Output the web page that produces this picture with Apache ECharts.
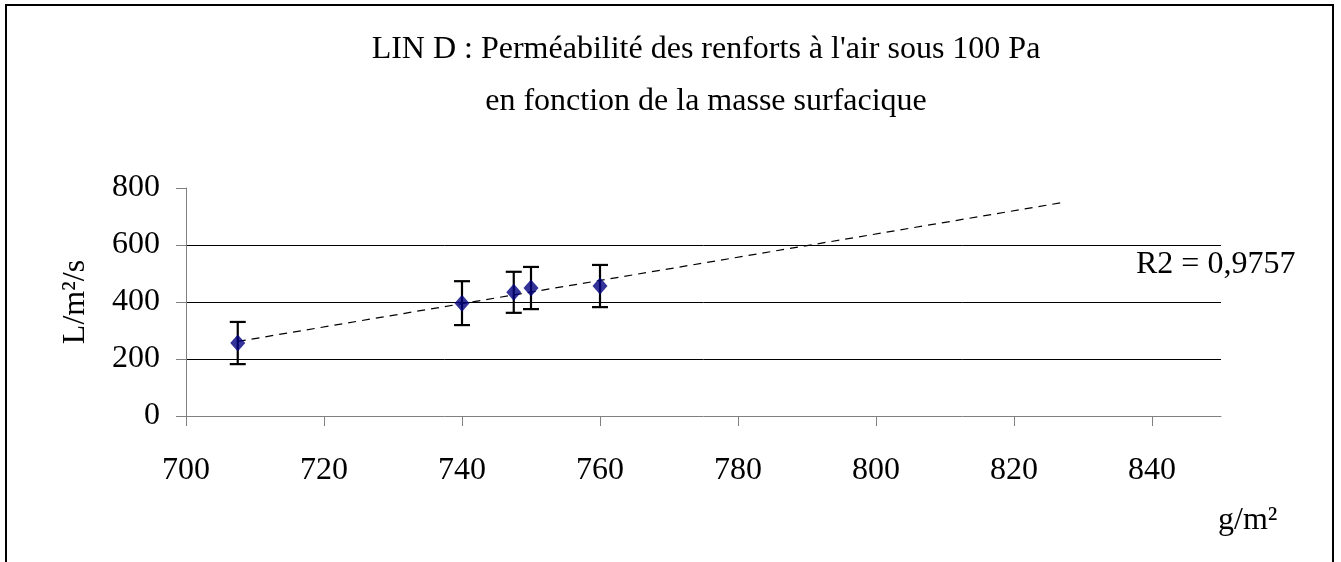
<!DOCTYPE html>
<html>
<head>
<meta charset="utf-8">
<script src="https://cdn.jsdelivr.net/npm/echarts@6/dist/echarts.min.js"></script>
<style>
  html,body{margin:0;padding:0;background:#fff;}
  #chart{width:1341px;height:562px;}
</style>
</head>
<body>
<div id="chart"></div>
<script>
// masse surfacique (g/m²) et perméabilité (L/m²/s)
const masse = [707.5, 740, 747.5, 750, 760];
const permeabilite = [256, 396, 434, 449, 456];
const ecart = [74, 77, 72, 74, 74];
const xTicks = [700, 720, 740, 760, 780, 800, 820, 840];
const trendEnd = 827;
const titleLines = ["LIN D : Perméabilité des renforts à l'air sous 100 Pa", 'en fonction de la masse surfacique'];
const r2Label = 'R2 = 0,9757';
const xUnit = 'g/m²';
const yUnit = 'L/m²/s';

const font = 'Liberation Serif';

// droite de régression linéaire
const n = masse.length;
const mx = masse.reduce((a, b) => a + b, 0) / n;
const my = permeabilite.reduce((a, b) => a + b, 0) / n;
let sxy = 0, sxx = 0;
masse.forEach((x, i) => {
    sxy += (x - mx) * (permeabilite[i] - my);
    sxx += (x - mx) * (x - mx);
});
const slope = sxy / sxx;
const intercept = my - slope * mx;
const xMin = Math.min(...masse);
const trendData = [[xMin, slope * xMin + intercept], [trendEnd, slope * trendEnd + intercept]];

const points = masse.map((x, i) => [x, permeabilite[i]]);
const errData = masse.map((x, i) => [x, permeabilite[i] - ecart[i], permeabilite[i] + ecart[i]]);

const chart = echarts.init(document.getElementById('chart'), null, { renderer: 'canvas' });

const option = {
    animation: false,
    backgroundColor: '#fff',
    textStyle: { fontFamily: font },
    title: {
        text: titleLines.join('\n'),
        left: 701,
        top: 19,
        textAlign: 'center',
        textStyle: {
            fontFamily: font,
            fontWeight: 'normal',
            fontSize: 32,
            lineHeight: 52,
            color: '#000'
        }
    },
    grid: { left: 186, right: 120, top: 188, bottom: 146 },
    xAxis: {
        type: 'value',
        min: 700,
        max: 850,
        interval: 20,
        axisLine: { show: true, lineStyle: { color: '#808080', width: 1 } },
        axisTick: { show: true, length: 10, customValues: xTicks, lineStyle: { color: '#808080' } },
        axisLabel: { customValues: xTicks, margin: 39, fontSize: 32, fontFamily: font, color: '#000' },
        splitLine: { show: false }
    },
    yAxis: {
        type: 'value',
        min: 0,
        max: 800,
        interval: 200,
        name: yUnit,
        nameLocation: 'middle',
        nameGap: 94,
        nameTextStyle: { fontSize: 32, fontFamily: font, color: '#000' },
        axisLine: { show: true, lineStyle: { color: '#808080', width: 1 } },
        axisTick: { show: true, length: 10, lineStyle: { color: '#808080' } },
        axisLabel: { margin: 26, fontSize: 32, fontFamily: font, color: '#000' },
        splitLine: { show: true, showMinLine: false, showMaxLine: false, lineStyle: { color: '#000', width: 1 } }
    },
    graphic: [
        {
            type: 'rect',
            shape: { x: 6, y: 5, width: 1327, height: 620 },
            style: { fill: 'none', stroke: '#000', lineWidth: 2 },
            silent: true
        },
        {
            type: 'text',
            left: 1136,
            top: 249,
            style: { text: r2Label, font: '32px "Liberation Serif"', fill: '#000' }
        },
        {
            type: 'text',
            left: 1218,
            top: 505,
            style: { text: xUnit, font: '32px "Liberation Serif"', fill: '#000' }
        }
    ],
    series: [
        {
            name: 'trend',
            type: 'line',
            data: trendData,
            symbol: 'none',
            lineStyle: { color: '#000', width: 1.2, type: [8, 6] },
            z: 2
        },
        {
            name: 'erreur',
            type: 'custom',
            data: errData,
            z: 3,
            renderItem: (params, api) => {
                const x = api.value(0);
                const lo = api.coord([x, api.value(1)]);
                const hi = api.coord([x, api.value(2)]);
                const half = 8;
                const st = { stroke: '#000', lineWidth: 2.2 };
                return {
                    type: 'group',
                    children: [
                        { type: 'line', shape: { x1: lo[0], y1: lo[1], x2: hi[0], y2: hi[1] }, style: st },
                        { type: 'line', shape: { x1: lo[0] - half, y1: lo[1], x2: lo[0] + half, y2: lo[1] }, style: st },
                        { type: 'line', shape: { x1: hi[0] - half, y1: hi[1], x2: hi[0] + half, y2: hi[1] }, style: st }
                    ]
                };
            }
        },
        {
            name: 'mesures',
            type: 'scatter',
            data: points,
            symbol: 'diamond',
            symbolSize: [15, 17],
            itemStyle: { color: '#000080' },
            z: 4
        }
    ]
};

chart.setOption(option);
</script>
</body>
</html>
